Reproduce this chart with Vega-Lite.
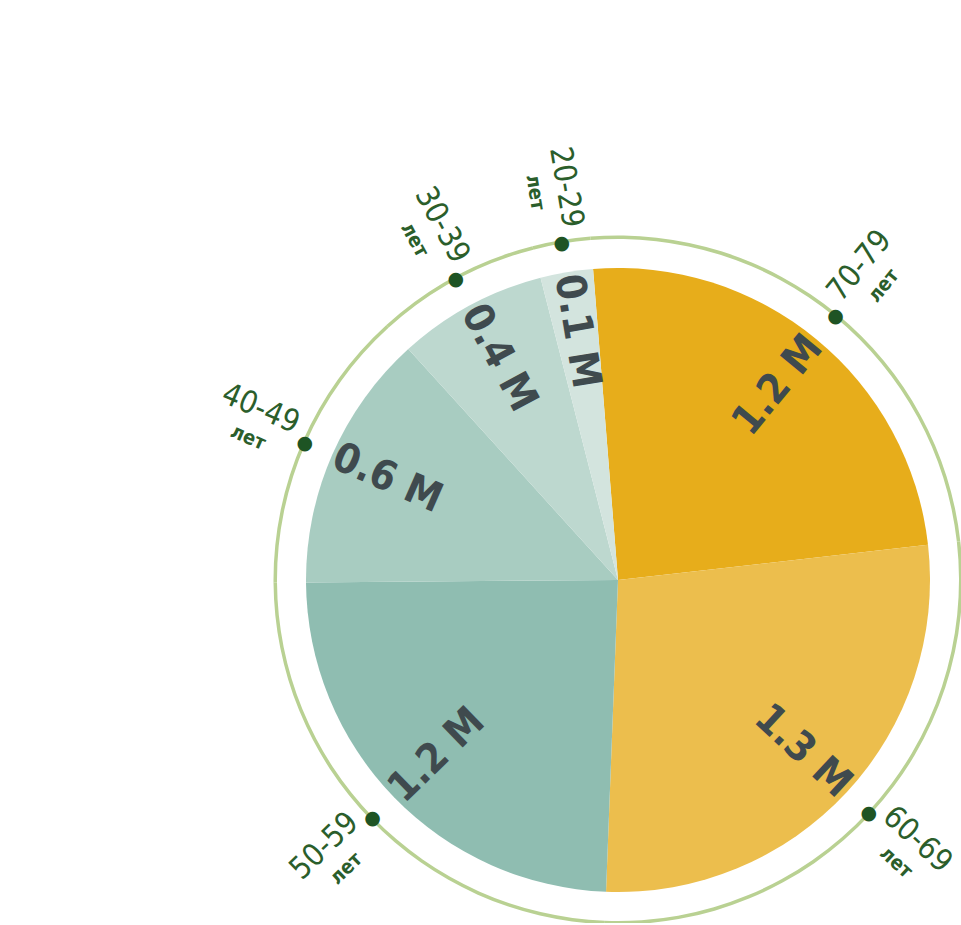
{
  "$schema": "https://vega.github.io/schema/vega-lite/v6.json",
  "width": 686,
  "height": 686,
  "autosize": {"type": "none"},
  "padding": {"left": 275, "top": 237, "right": 0, "bottom": 0},
  "background": "white",
  "config": {"view": {"stroke": null}},
  "data": {
    "values": [
      {"idx": 1, "age": "70-79", "value": 1.17, "label": "1.2 M"},
      {"idx": 2, "age": "60-69", "value": 1.31, "label": "1.3 M"},
      {"idx": 3, "age": "50-59", "value": 1.16, "label": "1.2 M"},
      {"idx": 4, "age": "40-49", "value": 0.64, "label": "0.6 M"},
      {"idx": 5, "age": "30-39", "value": 0.37, "label": "0.4 M"},
      {"idx": 6, "age": "20-29", "value": 0.13, "label": "0.1 M"}
    ]
  },
  "encoding": {
    "theta": {"field": "value", "type": "quantitative", "stack": true, "scale": {"range": [-0.08, 6.2032]}},
    "order": {"field": "idx", "type": "quantitative"}
  },
  "layer": [
    {
      "mark": {"type": "arc", "radius": 344.5, "radius2": 341, "color": "#b9d192"}
    },
    {
      "mark": {"type": "arc", "radius": 312},
      "encoding": {
        "color": {
          "field": "age", "type": "nominal", "legend": null,
          "scale": {
            "domain": ["70-79", "60-69", "50-59", "40-49", "30-39", "20-29"],
            "range": ["#e7ad1b", "#ecbe4d", "#8fbdb1", "#a8ccc1", "#bdd8cf", "#d3e4de"]
          }
        }
      }
    },
    {
      "mark": {"type": "text", "radius": 342, "text": "●", "fontSize": 19, "color": "#1e5424", "baseline": "middle", "align": "center", "font": "DejaVu Sans"}
    },
    {
      "mark": {"type": "text", "radius": 252, "fontSize": 41, "fontWeight": "bold", "font": "DejaVu Sans Condensed", "color": "#3f4a4e", "baseline": "middle", "align": "center"},
      "encoding": {
        "text": {"field": "label"},
        "angle": {"field": "idx", "type": "quantitative", "scale": {"type": "threshold", "domain": [1.5, 2.5, 3.5, 4.5, 5.5], "range": [-50.5, 42.8, -44.1, 23.6, 61.7, 80.5]}, "legend": null}
      }
    },
    {
      "mark": {"type": "text", "radius": 396, "dy": -13, "fontSize": 31, "font": "DejaVu Sans Condensed", "color": "#2b5e2b", "baseline": "middle", "align": "center"},
      "encoding": {
        "text": {"field": "age"},
        "angle": {"field": "idx", "type": "quantitative", "scale": {"type": "threshold", "domain": [1.5, 2.5, 3.5, 4.5, 5.5], "range": [-50.5, 42.8, -44.1, 23.6, 61.7, 80.5]}, "legend": null}
      }
    },
    {
      "mark": {"type": "text", "radius": 396, "dy": 18, "text": "лет", "fontSize": 20, "fontWeight": "bold", "font": "DejaVu Sans Condensed", "color": "#2b5e2b", "baseline": "middle", "align": "center"},
      "encoding": {
        "angle": {"field": "idx", "type": "quantitative", "scale": {"type": "threshold", "domain": [1.5, 2.5, 3.5, 4.5, 5.5], "range": [-50.5, 42.8, -44.1, 23.6, 61.7, 80.5]}, "legend": null}
      }
    }
  ]
}
